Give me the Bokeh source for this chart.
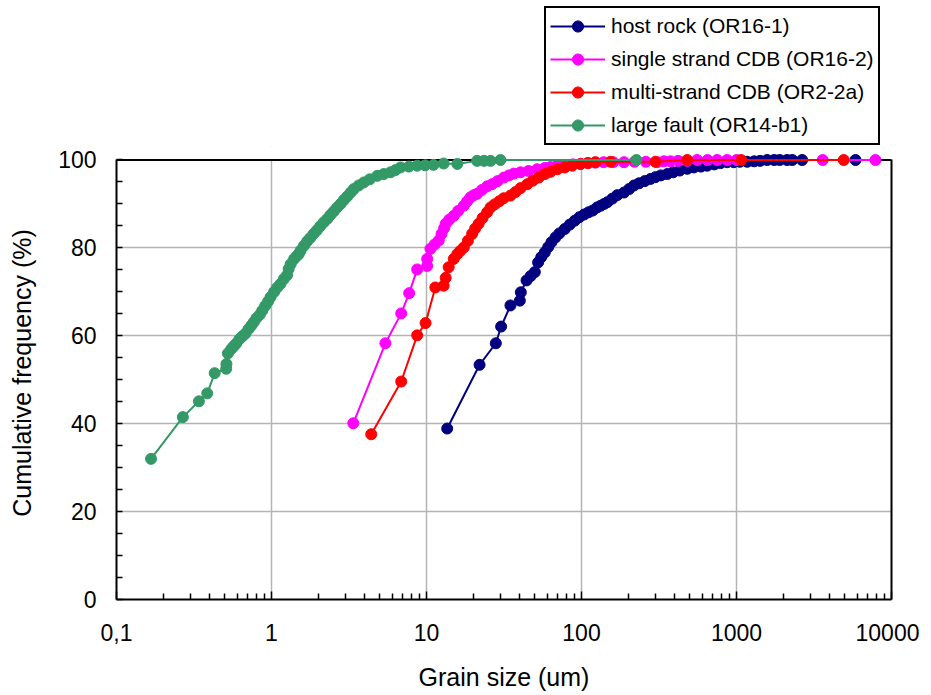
from bokeh.plotting import figure
from bokeh.layouts import column
from bokeh.models import (Range1d, FixedTicker, LinearAxis, Span, BoxAnnotation,
                          Legend, LegendItem)
from bokeh.embed import file_html
from bokeh.resources import INLINE

# ---- data ----
series_names = ["host rock (OR16-1)", "single strand CDB (OR16-2)",
                "multi-strand CDB (OR2-2a)", "large fault (OR14-b1)"]
series_colors = ["#000080", "#FF00FF", "#FF0000", "#339966"]

host_rock = [(13.6, 38.9), (22.0, 53.4), (28.0, 58.3), (30.3, 62.1), (34.8, 66.9), (40.0, 68.0),
             (40.6, 69.9), (44.2, 72.6), (47.0, 73.6), (50.0, 74.5), (52.5, 76.7), (55.0, 77.9),
             (58.0, 79.0), (61.0, 80.2), (64.0, 81.3), (68.0, 82.4), (72.0, 83.3), (78.0, 84.3),
             (84.0, 85.3), (90.5, 86.2), (97.0, 87.0), (104, 87.6), (111, 88.1), (118, 88.5),
             (126, 89.2), (133, 89.6), (140, 90.0), (147, 90.4), (158, 91.2), (170, 92.0),
             (188, 92.6), (203, 93.4), (218, 94.2), (235, 94.7), (256, 95.2), (279, 95.7),
             (300, 96.1), (325, 96.5), (357, 96.8), (390, 97.2), (430, 97.6), (481, 98.0),
             (530, 98.3), (590, 98.5), (647, 98.7), (720, 99.0), (790, 99.3), (871, 99.5),
             (960, 99.5), (1050, 99.6), (1172, 99.6), (1300, 99.7), (1420, 99.8), (1576, 100),
             (1750, 100), (1900, 100), (2120, 100), (2290, 100), (2650, 100), (5860, 100)]

single_strand = [(3.37, 40.1), (5.43, 58.3), (6.87, 65.1), (7.73, 69.7), (8.71, 75.1), (10.1, 75.9),
                 (10.1, 77.5), (10.6, 79.8), (11.3, 80.8), (12.0, 81.7), (12.5, 83.2), (13.0, 84.5),
                 (13.3, 85.5), (14.0, 86.4), (15.0, 87.3), (16.0, 88.4), (17.4, 89.6), (18.3, 90.6),
                 (19.2, 91.5), (20.2, 92.0), (21.2, 92.3), (22.8, 93.2), (24.6, 94.0), (26.5, 94.5),
                 (28.8, 95.2), (31.5, 96.0), (34.0, 96.5), (36.6, 96.9), (40.4, 97.2), (45.5, 97.5),
                 (51.7, 97.9), (58.0, 98.2), (63.0, 98.4), (69.6, 98.7), (78.0, 98.8), (88.0, 99.0),
                 (98.6, 99.1), (110, 99.3), (123, 99.4), (139, 99.5), (160, 99.5), (188, 99.5),
                 (220, 99.6), (260, 99.6), (307, 99.5), (340, 99.7), (375, 99.7), (420, 99.8),
                 (480, 99.8), (557, 100), (650, 100), (750, 100), (870, 100), (1000, 100),
                 (3600, 100), (7880, 100)]

multi_strand = [(4.40, 37.6), (6.87, 49.6), (8.71, 60.1), (9.86, 62.9), (11.4, 71.0), (12.9, 71.4),
                (13.3, 73.2), (13.9, 75.6), (15.0, 77.5), (15.8, 78.6), (16.5, 79.3), (17.4, 80.1),
                (18.5, 81.6), (19.7, 83.2), (20.6, 84.4), (21.7, 85.5), (23.0, 86.8), (24.6, 88.1),
                (25.9, 89.2), (27.5, 89.9), (29.5, 90.6), (31.5, 91.3), (34.8, 91.9), (37.5, 92.7),
                (40.5, 93.6), (44.7, 94.5), (48.5, 95.3), (53.0, 96.0), (58.0, 96.8), (63.1, 97.3),
                (70.0, 97.9), (78.0, 98.3), (87.0, 98.7), (98.6, 99.1), (110, 99.3), (123, 99.5),
                (154, 99.6), (300, 99.6), (481, 100), (1072, 100), (4920, 100)]

large_fault = [(0.167, 32.0), (0.268, 41.5), (0.340, 45.1), (0.385, 46.9), (0.430, 51.5), (0.510, 52.5),
               (0.512, 53.6), (0.523, 56.0), (0.55, 57.0), (0.57, 57.6), (0.591, 58.2), (0.62, 59.2),
               (0.65, 59.9), (0.679, 60.5), (0.71, 61.5), (0.74, 62.3), (0.769, 63.1), (0.80, 64.0),
               (0.84, 64.8), (0.871, 65.7), (0.91, 66.8), (0.95, 67.8), (0.986, 68.8), (1.04, 70.0),
               (1.09, 71.0), (1.143, 71.8), (1.20, 72.9), (1.26, 73.8), (1.29, 75.2), (1.33, 76.3),
               (1.40, 77.5), (1.46, 78.2), (1.50, 78.6), (1.54, 79.4), (1.62, 80.5), (1.70, 81.5),
               (1.78, 82.3), (1.87, 83.2), (1.96, 84.0), (2.06, 84.9), (2.17, 85.8), (2.29, 86.6),
               (2.40, 87.5), (2.52, 88.3), (2.65, 89.2), (2.79, 90.0), (2.93, 90.9), (3.08, 91.7),
               (3.24, 92.6), (3.40, 93.4), (3.65, 94.2), (3.94, 94.9), (4.30, 95.6), (4.81, 96.4),
               (5.30, 96.8), (5.86, 97.2), (6.30, 97.7), (6.80, 98.3), (7.70, 98.5), (8.71, 98.7),
               (9.80, 98.8), (11.1, 98.9), (12.9, 99.2), (15.8, 99.1), (21.2, 99.8), (23.5, 99.8),
               (25.9, 99.8), (30.0, 100), (226, 100)]

x_ticks = [0.1, 1, 10, 100, 1000, 10000]
x_tick_labels = ["0,1", "1", "10", "100", "1000", "10000"]
y_ticks = [0, 20, 40, 60, 80, 100]
y_minor = [5, 10, 15, 25, 30, 35, 45, 50, 55, 65, 70, 75, 85, 90, 95]

FONT = "Liberation Sans"
TOTAL_W = 919

# ---------------- main chart ----------------
p = figure(x_axis_type="log", x_range=Range1d(0.1, 10000), y_range=Range1d(0, 103.07),
           frame_width=775, frame_height=453,
           min_border_left=116, min_border_top=0, min_border_right=28, min_border_bottom=94,
           output_backend="svg", toolbar_location=None,
           background_fill_color="white", border_fill_color="white")
p.outline_line_color = None

# white cover above 100 so vertical grid lines stop at 100
p.add_layout(BoxAnnotation(bottom=100, fill_color="white", fill_alpha=1.0,
                           line_color=None, level="underlay"))
p.add_layout(Span(location=100, dimension="width", line_color="black",
                  line_width=2, level="underlay"))

# x axis
minor_x = [m * d for d in [0.1, 1, 10, 100, 1000] for m in range(2, 10)]
xa = p.xaxis[0]
xa.ticker = FixedTicker(ticks=x_ticks, minor_ticks=minor_x)
xa.major_label_overrides = {t: l for t, l in zip(x_ticks, x_tick_labels)}
xa.axis_label = "Grain size (um)"
xa.axis_line_color = "black"
xa.axis_line_width = 2
xa.major_tick_in = 8
xa.major_tick_out = 0
xa.minor_tick_in = 6
xa.minor_tick_out = 0
xa.major_tick_line_color = "black"
xa.minor_tick_line_color = "black"
xa.major_tick_line_width = 1.5
xa.minor_tick_line_width = 1.5
xa.major_label_text_font = FONT
xa.major_label_text_font_size = "23px"
xa.major_label_text_color = "black"
xa.major_label_standoff = 24
xa.axis_label_text_font = FONT
xa.axis_label_text_font_size = "25px"
xa.axis_label_text_font_style = "normal"
xa.axis_label_text_color = "black"
xa.axis_label_standoff = 19

# y axis
ya = p.yaxis[0]
ya.ticker = FixedTicker(ticks=y_ticks, minor_ticks=y_minor)
ya.bounds = (0, 100)
ya.axis_label = "Cumulative frequency (%)"
ya.axis_line_color = "black"
ya.axis_line_width = 2
ya.major_tick_in = 6
ya.major_tick_out = 0
ya.minor_tick_in = 6
ya.minor_tick_out = 0
ya.major_tick_line_width = 1.5
ya.minor_tick_line_width = 1.5
ya.major_tick_line_color = "black"
ya.minor_tick_line_color = "black"
ya.major_label_text_font = FONT
ya.major_label_text_font_size = "23px"
ya.major_label_text_color = "black"
ya.major_label_standoff = 20
ya.axis_label_text_font = FONT
ya.axis_label_text_font_size = "25px"
ya.axis_label_text_font_style = "normal"
ya.axis_label_text_color = "black"
ya.axis_label_standoff = 19

# right border as a bare axis
ra = LinearAxis(ticker=FixedTicker(ticks=[]), bounds=(0, 100), axis_line_color="black",
                axis_line_width=2, major_tick_line_color=None, minor_tick_line_color=None,
                major_label_text_font_size="0px")
p.add_layout(ra, "right")

# grids
p.xgrid.ticker = FixedTicker(ticks=x_ticks)
p.ygrid.ticker = FixedTicker(ticks=y_ticks)
for g in (p.xgrid[0], p.ygrid[0]):
    g.grid_line_color = "#b4b4b4"
    g.grid_line_width = 1.5

# series (drawn in Excel order: first series at the bottom)
for color, data in zip(series_colors, [host_rock, single_strand, multi_strand, large_fault]):
    xs = [d[0] for d in data]
    ys = [d[1] for d in data]
    p.line(xs, ys, line_color=color, line_width=2)
    p.scatter(xs, ys, marker="circle", size=11, fill_color=color, line_color=color)

# ---------------- legend strip above the chart ----------------
lg = figure(width=TOTAL_W, height=146, x_range=Range1d(0, 1), y_range=Range1d(0, 1),
            min_border=0, output_backend="svg", toolbar_location=None,
            x_axis_location=None, y_axis_location=None,
            background_fill_color="white", border_fill_color="white")
lg.outline_line_color = None
lg.xgrid.visible = False
lg.ygrid.visible = False

NAN = float("nan")
items = []
for name, color in zip(series_names, series_colors):
    lr = lg.line([NAN, NAN], [NAN, NAN], line_color=color, line_width=2)
    sr = lg.scatter([NAN], [NAN], marker="circle", size=11, fill_color=color, line_color=color)
    items.append(LegendItem(label=name, renderers=[lr, sr]))

legend = Legend(items=items, location=(428, 1), orientation="vertical",
                label_text_font=FONT, label_text_font_size="21px", label_text_color="black",
                glyph_width=55, glyph_height=28, label_standoff=6,
                label_height=28, spacing=5, padding=4, margin=0,
                border_line_color="black", border_line_width=2, border_line_alpha=1.0,
                background_fill_color="white", background_fill_alpha=1.0)
lg.add_layout(legend, "center")

layout = column(lg, p, spacing=0)
open("out.html", "w").write(file_html(layout, INLINE))
